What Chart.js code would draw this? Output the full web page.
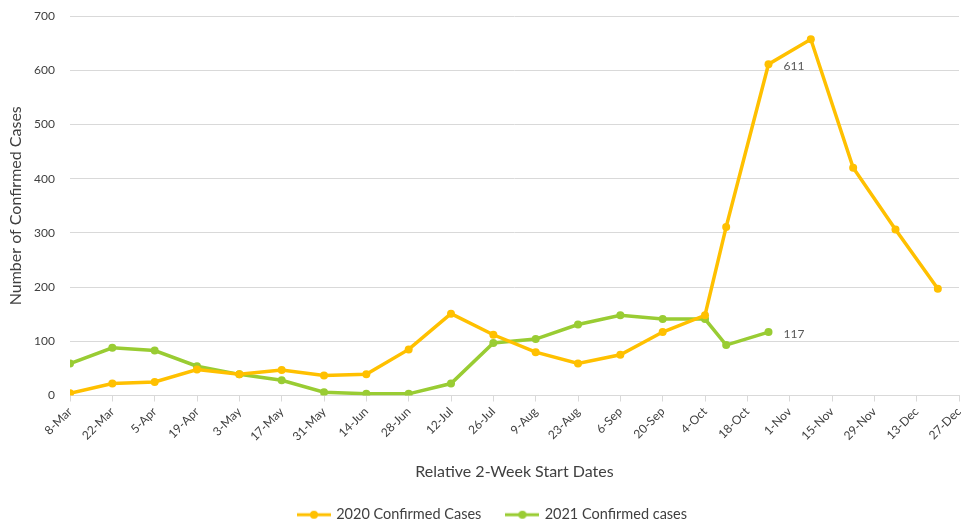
<!DOCTYPE html>
<html>
<head>
<meta charset="utf-8">
<script src="https://cdn.jsdelivr.net/npm/chart.js@4/dist/chart.umd.min.js"></script>
<style>
  html, body { margin: 0; padding: 0; background: #fff; }
  #wrap { width: 963px; height: 523px; }
</style>
</head>
<body>
<div id="wrap"><canvas id="casesChart" width="963" height="523"></canvas></div>
<script>
// tick labels, one every 14 days starting 8-Mar
const tickLabels = ['8-Mar', '22-Mar', '5-Apr', '19-Apr', '3-May', '17-May', '31-May', '14-Jun',
    '28-Jun', '12-Jul', '26-Jul', '9-Aug', '23-Aug', '6-Sep', '20-Sep', '4-Oct', '18-Oct',
    '1-Nov', '15-Nov', '29-Nov', '13-Dec', '27-Dec'];

// day offsets (from 8-Mar) of each data point
const days2020 = [0, 14, 28, 42, 56, 70, 84, 98, 112, 126, 140, 154, 168, 182, 196, 210,
    217, 231, 245, 259, 273, 287];
const days2021 = [0, 14, 28, 42, 56, 70, 84, 98, 112, 126, 140, 154, 168, 182, 196, 210,
    217, 231];

const cases2020 = [4, 22, 25, 48, 39, 47, 37, 39, 85, 151, 112, 80, 59, 75, 117, 148,
    311, 611, 657, 420, 306, 197];
const cases2021 = [59, 88, 83, 54, 39, 28, 6, 3, 3, 22, 97, 104, 131, 148, 141, 141,
    93, 117];

const COLOR_2020 = '#FFC000';
const COLOR_2021 = '#99CC33';
const FONT = 'Lato, "Open Sans", sans-serif';
const TEXT = '#404040';

function toPoints(xs, ys) {
    return xs.map((x, i) => ({ x: x, y: ys[i] }));
}

// little line-with-dot marker like excel legends
function legendMarker(color) {
    const c = document.createElement('canvas');
    c.width = 34;
    c.height = 10;
    const g = c.getContext('2d');
    g.strokeStyle = color;
    g.lineWidth = 3;
    g.beginPath();
    g.moveTo(0, 5);
    g.lineTo(34, 5);
    g.stroke();
    g.fillStyle = color;
    g.beginPath();
    g.arc(17, 5, 4, 0, Math.PI * 2);
    g.fill();
    return c;
}

// value labels for a couple of points
const pointLabels = {
    id: 'pointLabels',
    afterLayout(chart) {
        // nudge legend a bit right, excel centres it differently
        chart.legend.left += 20;
    },
    afterDatasetsDraw(chart) {
        const ctx = chart.ctx;
        const marks = [[0, 17], [1, 17]];
        ctx.save();
        ctx.font = '12px ' + FONT;
        ctx.fillStyle = '#595959';
        ctx.textAlign = 'left';
        ctx.textBaseline = 'middle';
        marks.forEach(([ds, idx]) => {
            const el = chart.getDatasetMeta(ds).data[idx];
            const v = chart.data.datasets[ds].data[idx].y;
            ctx.fillText(String(v), el.x + 15, el.y + 2);
        });
        ctx.restore();
    }
};

const ctx = document.getElementById('casesChart').getContext('2d');
new Chart(ctx, {
    type: 'line',
    data: {
        datasets: [{
            label: '2020 Confirmed Cases',
            data: toPoints(days2020, cases2020),
            borderColor: COLOR_2020,
            backgroundColor: COLOR_2020,
            borderWidth: 3.5,
            pointRadius: 4,
            pointBorderWidth: 0,
            tension: 0
        }, {
            label: '2021 Confirmed cases',
            data: toPoints(days2021, cases2021),
            borderColor: COLOR_2021,
            backgroundColor: COLOR_2021,
            borderWidth: 3.5,
            pointRadius: 4,
            pointBorderWidth: 0,
            tension: 0
        }]
    },
    options: {
        responsive: false,
        animation: false,
        layout: { padding: { left: 6, right: 3, top: 16, bottom: -9 } },
        scales: {
            x: {
                type: 'linear',
                min: 0,
                max: 294,
                afterFit: (scale) => {
                    scale.height = 86;
                    scale.paddingRight = 0;
                    scale.paddingLeft = 0;
                },
                grid: {
                    drawOnChartArea: false,
                    drawTicks: true,
                    tickLength: 6,
                    color: '#d9d9d9'
                },
                border: { color: '#d9d9d9' },
                ticks: {
                    stepSize: 14,
                    autoSkip: false,
                    minRotation: 45,
                    maxRotation: 45,
                    color: TEXT,
                    font: { family: FONT, size: 12 },
                    callback: (v) => tickLabels[Math.round(v / 14)]
                },
                title: {
                    display: true,
                    text: 'Relative 2-Week Start Dates',
                    color: TEXT,
                    font: { family: FONT, size: 16 },
                    padding: { top: 4, bottom: 0 }
                }
            },
            y: {
                min: 0,
                max: 700,
                afterFit: (scale) => {
                    scale.width = 64;
                    scale.paddingTop = 0;
                    scale.paddingBottom = 0;
                },
                grid: { color: '#d9d9d9', drawTicks: false },
                border: { display: false },
                ticks: {
                    stepSize: 100,
                    padding: 15,
                    color: TEXT,
                    font: { family: FONT, size: 12 }
                },
                title: {
                    display: true,
                    text: 'Number of Confirmed Cases',
                    color: TEXT,
                    font: { family: FONT, size: 16 },
                    padding: { top: 0, bottom: 0 }
                }
            }
        },
        plugins: {
            legend: {
                position: 'bottom',
                labels: {
                    usePointStyle: true,
                    pointStyleWidth: 30,
                    color: TEXT,
                    font: { family: FONT, size: 14.5 },
                    padding: 26,
                    generateLabels(chart) {
                        const items = Chart.defaults.plugins.legend.labels.generateLabels(chart);
                        items.forEach((it, i) => {
                            it.pointStyle = legendMarker(chart.data.datasets[i].borderColor);
                        });
                        return items;
                    }
                }
            },
            tooltip: { enabled: false }
        }
    },
    plugins: [pointLabels]
});
</script>
</body>
</html>
